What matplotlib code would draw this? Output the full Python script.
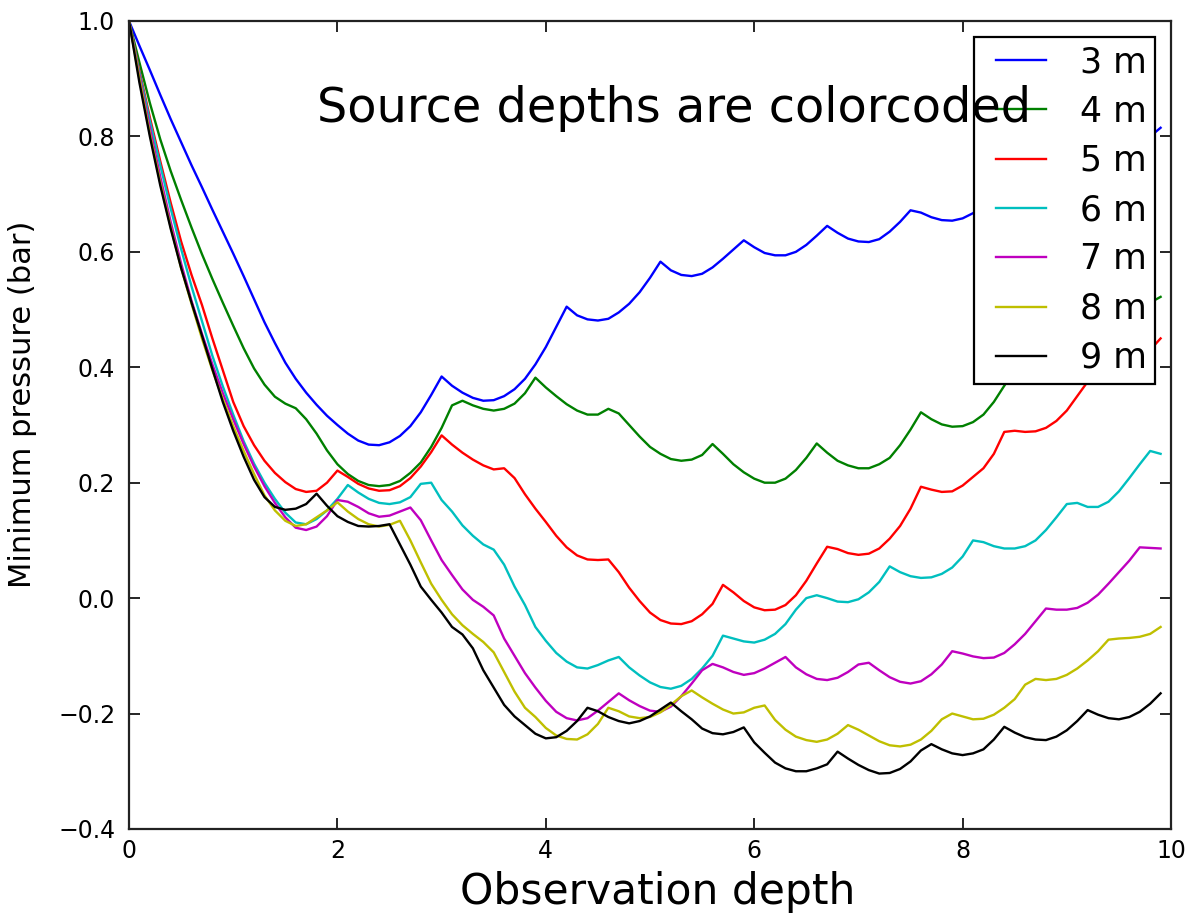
import numpy as np
import matplotlib
matplotlib.use("Agg")
import matplotlib.pyplot as plt
from matplotlib.legend_handler import HandlerLine2D
from matplotlib.lines import Line2D

# Observation depths (0.0 ... 9.9)
obs_depth = np.round(np.arange(0, 100) * 0.1, 1)

source_labels = ["3 m", "4 m", "5 m", "6 m", "7 m", "8 m", "9 m"]
source_colors = ["#0000ff", "#008000", "#ff0000", "#00bfbf", "#bf00bf", "#bfbf00", "#000000"]

p_3m = [1.000, 0.957, 0.915, 0.872, 0.830, 0.790, 0.750, 0.712, 0.673, 0.635,
        0.597, 0.558, 0.518, 0.478, 0.442, 0.408, 0.380, 0.356, 0.335, 0.316,
        0.300, 0.285, 0.273, 0.266, 0.265, 0.270, 0.281, 0.298, 0.322, 0.352,
        0.384, 0.368, 0.356, 0.347, 0.342, 0.343, 0.350, 0.362, 0.380, 0.405,
        0.435, 0.470, 0.505, 0.490, 0.483, 0.481, 0.484, 0.495, 0.510, 0.530,
        0.555, 0.583, 0.568, 0.560, 0.558, 0.562, 0.573, 0.588, 0.604, 0.620,
        0.608, 0.598, 0.594, 0.594, 0.600, 0.612, 0.628, 0.645, 0.633, 0.623,
        0.618, 0.617, 0.622, 0.635, 0.652, 0.672, 0.668, 0.660, 0.655, 0.654,
        0.658, 0.667, 0.680, 0.697, 0.690, 0.686, 0.688, 0.696, 0.710, 0.727,
        0.745, 0.748, 0.742, 0.742, 0.748, 0.758, 0.772, 0.788, 0.800, 0.815]

p_4m = [1.000, 0.928, 0.858, 0.795, 0.740, 0.690, 0.642, 0.596, 0.553, 0.512,
        0.472, 0.433, 0.398, 0.370, 0.349, 0.337, 0.329, 0.310, 0.285, 0.256,
        0.232, 0.215, 0.203, 0.196, 0.194, 0.196, 0.203, 0.217, 0.235, 0.262,
        0.295, 0.334, 0.342, 0.334, 0.328, 0.325, 0.328, 0.337, 0.355, 0.382,
        0.365, 0.350, 0.336, 0.325, 0.318, 0.318, 0.328, 0.320, 0.300, 0.280,
        0.262, 0.250, 0.241, 0.238, 0.240, 0.248, 0.267, 0.250, 0.232, 0.218,
        0.207, 0.200, 0.200, 0.207, 0.222, 0.243, 0.268, 0.252, 0.238, 0.230,
        0.225, 0.225, 0.232, 0.243, 0.265, 0.292, 0.322, 0.310, 0.301, 0.297,
        0.298, 0.305, 0.318, 0.340, 0.368, 0.395, 0.390, 0.390, 0.395, 0.410,
        0.430, 0.455, 0.455, 0.455, 0.460, 0.470, 0.485, 0.500, 0.512, 0.522]

p_5m = [1.000, 0.913, 0.833, 0.757, 0.685, 0.618, 0.560, 0.508, 0.450, 0.395,
        0.340, 0.298, 0.265, 0.238, 0.217, 0.201, 0.189, 0.184, 0.186, 0.200,
        0.221, 0.210, 0.198, 0.190, 0.186, 0.187, 0.194, 0.208, 0.228, 0.253,
        0.282, 0.266, 0.252, 0.240, 0.230, 0.223, 0.225, 0.208, 0.180, 0.155,
        0.132, 0.108, 0.088, 0.074, 0.067, 0.066, 0.067, 0.045, 0.018, -0.005,
        -0.025, -0.038, -0.044, -0.045, -0.040, -0.028, -0.010, 0.023, 0.010, -0.005,
        -0.016, -0.021, -0.020, -0.012, 0.005, 0.030, 0.060, 0.089, 0.085, 0.078,
        0.075, 0.077, 0.086, 0.103, 0.125, 0.155, 0.193, 0.188, 0.184, 0.185,
        0.195, 0.210, 0.225, 0.250, 0.288, 0.290, 0.288, 0.289, 0.295, 0.307,
        0.325, 0.350, 0.375, 0.385, 0.390, 0.395, 0.402, 0.415, 0.430, 0.450]

p_6m = [1.000, 0.910, 0.827, 0.750, 0.675, 0.605, 0.540, 0.480, 0.420, 0.367,
        0.318, 0.272, 0.233, 0.200, 0.172, 0.148, 0.131, 0.128, 0.137, 0.152,
        0.172, 0.196, 0.183, 0.172, 0.165, 0.163, 0.166, 0.175, 0.198, 0.200,
        0.170, 0.150, 0.126, 0.108, 0.093, 0.084, 0.058, 0.020, -0.012, -0.050,
        -0.074, -0.095, -0.110, -0.120, -0.122, -0.116, -0.108, -0.102, -0.120, -0.134,
        -0.146, -0.154, -0.157, -0.152, -0.140, -0.122, -0.100, -0.065, -0.070, -0.075,
        -0.077, -0.072, -0.062, -0.045, -0.020, 0.000, 0.005, 0.000, -0.006, -0.007,
        -0.002, 0.010, 0.028, 0.055, 0.045, 0.038, 0.035, 0.036, 0.042, 0.053,
        0.072, 0.100, 0.097, 0.090, 0.086, 0.086, 0.090, 0.100, 0.118, 0.140,
        0.163, 0.165, 0.158, 0.158, 0.167, 0.185, 0.208, 0.232, 0.255, 0.250]

p_7m = [1.000, 0.905, 0.815, 0.730, 0.652, 0.580, 0.515, 0.458, 0.405, 0.355,
        0.310, 0.267, 0.228, 0.194, 0.165, 0.140, 0.122, 0.118, 0.124, 0.142,
        0.170, 0.167, 0.158, 0.147, 0.141, 0.143, 0.150, 0.157, 0.135, 0.100,
        0.066, 0.040, 0.015, -0.003, -0.015, -0.030, -0.070, -0.100, -0.130, -0.155,
        -0.178, -0.197, -0.208, -0.212, -0.208, -0.195, -0.180, -0.165, -0.177, -0.187,
        -0.195, -0.197, -0.188, -0.170, -0.148, -0.125, -0.114, -0.120, -0.128, -0.133,
        -0.130, -0.122, -0.112, -0.102, -0.120, -0.132, -0.140, -0.142, -0.138, -0.128,
        -0.115, -0.112, -0.125, -0.137, -0.145, -0.148, -0.144, -0.132, -0.115, -0.092,
        -0.096, -0.101, -0.104, -0.103, -0.095, -0.080, -0.062, -0.040, -0.018, -0.020,
        -0.020, -0.017, -0.008, 0.006, 0.025, 0.045, 0.065, 0.088, 0.087, 0.086]

p_8m = [1.000, 0.900, 0.805, 0.720, 0.643, 0.572, 0.510, 0.450, 0.395, 0.345,
        0.298, 0.255, 0.215, 0.178, 0.152, 0.134, 0.125, 0.128, 0.140, 0.152,
        0.166, 0.150, 0.137, 0.128, 0.124, 0.127, 0.134, 0.100, 0.062, 0.025,
        -0.003, -0.028, -0.047, -0.062, -0.076, -0.094, -0.128, -0.162, -0.190, -0.206,
        -0.225, -0.238, -0.244, -0.245, -0.236, -0.218, -0.190, -0.196, -0.205, -0.208,
        -0.206, -0.198, -0.185, -0.170, -0.160, -0.172, -0.183, -0.193, -0.200, -0.198,
        -0.190, -0.186, -0.211, -0.228, -0.240, -0.246, -0.249, -0.245, -0.235, -0.220,
        -0.228, -0.238, -0.248, -0.255, -0.257, -0.254, -0.245, -0.230, -0.210, -0.200,
        -0.205, -0.210, -0.209, -0.202, -0.190, -0.175, -0.150, -0.140, -0.142, -0.140,
        -0.133, -0.122, -0.108, -0.092, -0.072, -0.070, -0.069, -0.067, -0.062, -0.050]

p_9m = [1.000, 0.893, 0.800, 0.715, 0.640, 0.572, 0.512, 0.455, 0.397, 0.340,
        0.290, 0.245, 0.205, 0.175, 0.158, 0.153, 0.155, 0.163, 0.181, 0.160,
        0.142, 0.132, 0.125, 0.124, 0.125, 0.128, 0.093, 0.058, 0.020, -0.003,
        -0.025, -0.050, -0.063, -0.087, -0.125, -0.155, -0.185, -0.205, -0.220, -0.235,
        -0.243, -0.241, -0.230, -0.213, -0.190, -0.196, -0.206, -0.213, -0.217, -0.213,
        -0.205, -0.193, -0.181, -0.196, -0.210, -0.226, -0.234, -0.236, -0.232, -0.224,
        -0.250, -0.268, -0.285, -0.295, -0.300, -0.300, -0.295, -0.288, -0.266, -0.278,
        -0.289, -0.298, -0.304, -0.303, -0.296, -0.283, -0.264, -0.253, -0.262, -0.269,
        -0.272, -0.269, -0.262, -0.245, -0.223, -0.233, -0.241, -0.245, -0.246, -0.240,
        -0.229, -0.213, -0.194, -0.202, -0.208, -0.210, -0.206, -0.197, -0.183, -0.165]

series = [p_3m, p_4m, p_5m, p_6m, p_7m, p_8m, p_9m]

fig = plt.figure(figsize=(11.88, 9.17), dpi=100)
ax = fig.add_axes([0.1086, 0.0960, 0.8771, 0.8811])

for vals, lab, col in zip(series, source_labels, source_colors):
    ax.plot(obs_depth, vals, color=col, lw=1.7, label=lab)

ax.set_xlim(0, 10)
ax.set_ylim(-0.4, 1.0)
ax.set_xticks(np.arange(0, 11, 2))
ax.set_yticks(np.round(np.arange(-0.4, 1.01, 0.2), 1))

ax.tick_params(direction="in", length=8, width=1.2, top=True, right=True,
               labelsize=17)
ax.tick_params(axis="y", pad=10)
ax.tick_params(axis="x", pad=7)
for sp in ax.spines.values():
    sp.set_linewidth(1.6)
    sp.set_color("#222222")

ax.set_xlabel("Observation depth", fontsize=30.5)
ax.xaxis.set_label_coords(0.507, -0.052)
ax.set_ylabel("Minimum pressure (bar)", fontsize=22)
ax.yaxis.set_label_coords(-0.088, 0.525)

# legend handles are inset from the left edge of their handle box
inset_handler = HandlerLine2D(numpoints=2, marker_pad=0.38)
leg = ax.legend(loc="upper right", fontsize=25, frameon=True, fancybox=False,
                framealpha=1.0, edgecolor="black", borderpad=0.25,
                labelspacing=0.44, handlelength=2.18, handletextpad=0.6,
                borderaxespad=0.45,
                handler_map={Line2D: inset_handler})
leg.get_frame().set_linewidth(1.6)

ax.text(1.8, 0.825, "Source depths are colorcoded", fontsize=34.5, zorder=10)

fig.savefig("out.png", dpi=100)
